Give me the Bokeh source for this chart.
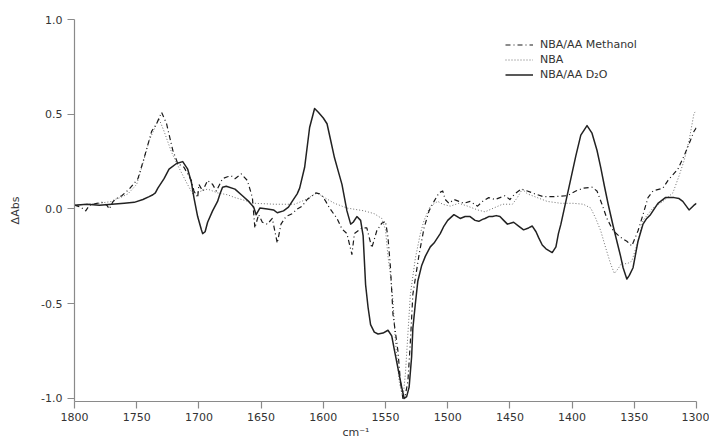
from bokeh.plotting import figure
from bokeh.models import (Range1d, FixedTicker, PrintfTickFormatter, Legend,
                          LegendItem, Title, ColumnDataSource)
from bokeh.embed import file_html
from bokeh.resources import INLINE

# Difference spectra: wavenumber (cm^-1) and change in absorbance
wn_methanol = [1800, 1795, 1791, 1788, 1782, 1778, 1774, 1772, 1769, 1765, 1762, 1756,
               1749, 1744, 1738, 1734, 1730, 1726, 1721, 1717, 1712, 1706, 1704, 1701,
               1700, 1697, 1693, 1689, 1686, 1681, 1677, 1674, 1671, 1666, 1661, 1657,
               1655, 1652, 1649, 1645, 1641, 1637, 1634, 1630, 1625, 1621, 1617, 1613,
               1609, 1606, 1603, 1601, 1598, 1595, 1589, 1585, 1581, 1577, 1575, 1569,
               1565, 1561, 1557, 1553, 1550, 1548, 1546, 1544, 1540, 1538, 1536, 1534,
               1532, 1530, 1528, 1523, 1519, 1515, 1511, 1507, 1504, 1502, 1499, 1495,
               1491, 1487, 1482, 1476, 1472, 1467, 1462, 1458, 1454, 1450, 1446, 1441,
               1436, 1430, 1423, 1415, 1404, 1397, 1391, 1384, 1380, 1376, 1372, 1367,
               1361, 1356, 1352, 1347, 1343, 1339, 1335, 1327, 1323, 1315, 1310, 1305,
               1302, 1300]
abs_methanol = [0.02, 0.01, -0.01, 0.02, 0.03, 0.035, 0.02, 0.0, 0.04, 0.06, 0.07, 0.105,
                0.16, 0.27, 0.41, 0.45, 0.51, 0.45, 0.31, 0.24, 0.22, 0.15, 0.095, 0.06,
                0.13, 0.095, 0.15, 0.13, 0.095, 0.16, 0.17, 0.175, 0.16, 0.185, 0.15, 0.06,
                -0.10, -0.03, -0.07, -0.08, -0.05, -0.18, -0.08, -0.04, -0.025, 0.0, 0.015, 0.05,
                0.07, 0.085, 0.08, 0.07, 0.04, 0.005, -0.05, -0.105, -0.13, -0.24, -0.13, -0.10,
                -0.10, -0.205, -0.115, -0.075, -0.065, -0.15, -0.31, -0.555, -0.75, -0.91, -1.0, -0.98,
                -0.91, -0.70, -0.45, -0.24, -0.10, -0.01, 0.04, 0.085, 0.095, 0.05, 0.03, 0.05,
                0.04, 0.03, 0.04, 0.015, 0.04, 0.06, 0.05, 0.06, 0.07, 0.05, 0.08, 0.105,
                0.095, 0.08, 0.065, 0.065, 0.07, 0.095, 0.11, 0.115, 0.095, 0.025, -0.05, -0.115,
                -0.15, -0.17, -0.195, -0.115, -0.03, 0.06, 0.095, 0.11, 0.15, 0.21, 0.28, 0.36,
                0.41, 0.43]

wn_nba = [1800, 1790, 1780, 1770, 1768, 1763, 1757, 1750, 1745, 1740, 1734, 1732,
          1728, 1722, 1717, 1710, 1705, 1700, 1698, 1693, 1685, 1677, 1671, 1663,
          1655, 1639, 1623, 1614, 1605, 1599, 1591, 1581, 1567, 1559, 1553, 1550,
          1548, 1546, 1544, 1542, 1539, 1536, 1534, 1532, 1530, 1526, 1522, 1519,
          1514, 1508, 1504, 1498, 1491, 1484, 1476, 1470, 1463, 1456, 1448, 1444,
          1440, 1436, 1428, 1420, 1409, 1399, 1391, 1385, 1381, 1377, 1373, 1369,
          1366, 1363, 1360, 1356, 1352, 1347, 1343, 1335, 1327, 1319, 1314, 1310,
          1306, 1302, 1300]
abs_nba = [0.02, 0.025, 0.03, 0.04, 0.05, 0.06, 0.08, 0.13, 0.24, 0.36, 0.45, 0.475,
           0.41, 0.30, 0.23, 0.14, 0.08, 0.09, 0.095, 0.105, 0.085, 0.075, 0.06, 0.045,
           0.03, 0.025, 0.025, 0.05, 0.085, 0.06, 0.03, 0.005, -0.01, -0.025, -0.05, -0.11,
           -0.25, -0.35, -0.485, -0.70, -0.91, -1.0, -0.87, -0.66, -0.45, -0.26, -0.13, -0.06,
           0.015, 0.04, 0.025, 0.015, 0.03, 0.015, -0.005, -0.015, 0.005, 0.025, 0.025, 0.06,
           0.105, 0.08, 0.06, 0.04, 0.03, 0.03, 0.025, 0.005, -0.05, -0.115, -0.205, -0.29,
           -0.34, -0.315, -0.285, -0.29, -0.275, -0.17, -0.06, 0.005, 0.04, 0.085, 0.175, 0.255,
           0.36, 0.505, 0.52]

wn_d2o = [1800, 1790, 1780, 1770, 1760, 1752, 1745, 1740, 1737, 1735, 1733, 1728,
          1724, 1718, 1713, 1709, 1706, 1704, 1701, 1698, 1697, 1695, 1693, 1689,
          1685, 1683, 1681, 1678, 1671, 1665, 1660, 1656, 1654, 1651, 1645, 1640,
          1637, 1632, 1628, 1625, 1621, 1619, 1615, 1611, 1607, 1604, 1600, 1597,
          1594, 1591, 1588, 1585, 1581, 1578, 1576, 1573, 1570, 1568, 1566, 1564,
          1562, 1559, 1556, 1552, 1548, 1545, 1543, 1540, 1537, 1535, 1533, 1531,
          1529, 1528, 1526, 1524, 1521, 1518, 1514, 1511, 1506, 1503, 1500, 1495,
          1490, 1486, 1482, 1478, 1475, 1472, 1470, 1467, 1464, 1461, 1458, 1455,
          1452, 1447, 1443, 1439, 1435, 1432, 1429, 1427, 1424, 1421, 1416, 1413,
          1411, 1409, 1405, 1401, 1397, 1393, 1388, 1384, 1380, 1377, 1374, 1371,
          1367, 1364, 1361, 1359, 1356, 1354, 1351, 1349, 1347, 1343, 1340, 1337,
          1331, 1325, 1318, 1314, 1311, 1306, 1302, 1300]
abs_d2o = [0.02, 0.025, 0.02, 0.025, 0.03, 0.035, 0.05, 0.065, 0.075, 0.085, 0.11, 0.16,
           0.21, 0.24, 0.25, 0.21, 0.14, 0.06, -0.04, -0.11, -0.13, -0.12, -0.07, -0.01,
           0.04, 0.08, 0.115, 0.12, 0.105, 0.07, 0.04, 0.01, -0.03, 0.005, 0.0, -0.005,
           -0.02, -0.01, 0.01, 0.04, 0.08, 0.11, 0.22, 0.43, 0.53, 0.51, 0.48, 0.45,
           0.36, 0.27, 0.20, 0.13, -0.01, -0.08, -0.07, -0.04, -0.06, -0.14, -0.40, -0.52,
           -0.61, -0.65, -0.66, -0.655, -0.64, -0.67, -0.74, -0.84, -0.94, -1.0, -0.99, -0.94,
           -0.78, -0.63, -0.50, -0.38, -0.30, -0.25, -0.20, -0.18, -0.13, -0.09, -0.06, -0.03,
           -0.05, -0.04, -0.04, -0.06, -0.065, -0.055, -0.05, -0.04, -0.04, -0.035, -0.04, -0.06,
           -0.08, -0.07, -0.09, -0.11, -0.10, -0.09, -0.12, -0.15, -0.19, -0.21, -0.23, -0.20,
           -0.13, -0.08, 0.04, 0.16, 0.28, 0.39, 0.44, 0.40, 0.31, 0.22, 0.12, 0.025,
           -0.09, -0.17, -0.25, -0.31, -0.37, -0.35, -0.31, -0.24, -0.17, -0.08, -0.05, -0.03,
           0.03, 0.06, 0.06, 0.055, 0.04, -0.005, 0.02, 0.03]

x_ticks = [1800, 1750, 1700, 1650, 1600, 1550, 1500, 1450, 1400, 1350, 1300]
y_ticks = [-1.0, -0.5, 0.0, 0.5, 1.0]
series_labels = ["NBA/AA Methanol", "NBA", "NBA/AA D\u2082O"]
x_title = "cm\u207b\u00b9"
y_title = "\u0394Abs"

FONT = "DejaVu Sans"
AXIS_GREY = "#8a8a8a"
TEXT = "#333333"

p = figure(width=709, height=439,
           x_range=Range1d(1800, 1300), y_range=Range1d(-1.016, 1.0),
           output_backend="svg", toolbar_location=None,
           min_border_left=74, min_border_right=13,
           min_border_top=19, min_border_bottom=38)
p.outline_line_color = None
p.xgrid.visible = False
p.ygrid.visible = False
p.background_fill_color = "white"
p.border_fill_color = "white"

for ax in (p.xaxis[0], p.yaxis[0]):
    ax.axis_line_color = AXIS_GREY
    ax.axis_line_width = 1.2
    ax.major_tick_line_color = AXIS_GREY
    ax.major_tick_line_width = 1.2
    ax.major_tick_in = 0
    ax.major_tick_out = 7
    ax.minor_tick_line_color = None
    ax.major_label_text_font = FONT
    ax.major_label_text_font_size = "11px"
    ax.major_label_text_color = TEXT

p.xaxis.ticker = FixedTicker(ticks=x_ticks)
p.xaxis.major_label_standoff = 4
p.yaxis.ticker = FixedTicker(ticks=y_ticks)
p.yaxis.formatter = PrintfTickFormatter(format="%.1f")
p.yaxis.major_label_standoff = 5
p.yaxis.axis_label = y_title
p.yaxis.axis_label_standoff = 16
p.yaxis.axis_label_text_font = FONT
p.yaxis.axis_label_text_font_size = "11px"
p.yaxis.axis_label_text_font_style = "normal"
p.yaxis.axis_label_text_color = TEXT

# x-axis unit label sits under the axis, a little left of centre
p.add_layout(Title(text=x_title, align="left", offset=268, standoff=0,
                   text_font=FONT, text_font_size="11px",
                   text_font_style="normal", text_color=TEXT), "below")

src_m = ColumnDataSource(dict(x=wn_methanol, y=abs_methanol))
src_n = ColumnDataSource(dict(x=wn_nba, y=abs_nba))
src_d = ColumnDataSource(dict(x=wn_d2o, y=abs_d2o))

r_nba = p.line("x", "y", source=src_n, line_color="#6e6e6e", line_width=1,
               line_dash="1 2")
r_meth = p.line("x", "y", source=src_m, line_color="#1a1a1a", line_width=1.2,
                line_dash="5 3 1 3", line_join="round")
r_d2o = p.line("x", "y", source=src_d, line_color="#222222", line_width=1.5,
               line_join="round")

legend = Legend(items=[LegendItem(label=series_labels[0], renderers=[r_meth]),
                       LegendItem(label=series_labels[1], renderers=[r_nba]),
                       LegendItem(label=series_labels[2], renderers=[r_d2o])],
                location=(431, 319), orientation="vertical",
                border_line_color=None, background_fill_alpha=0,
                padding=0, margin=0, spacing=0,
                glyph_width=28, glyph_height=15, label_height=15,
                label_standoff=7,
                label_text_font=FONT, label_text_font_size="11px",
                label_text_color=TEXT)
p.add_layout(legend)

open("out.html", "w").write(file_html(p, INLINE))
